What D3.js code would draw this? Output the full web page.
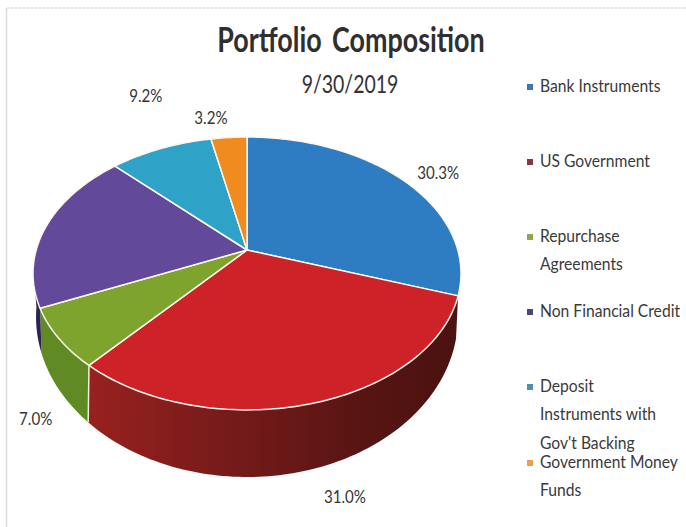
<!DOCTYPE html>
<html>
<head>
<meta charset="utf-8">
<script src="https://cdn.jsdelivr.net/npm/d3@7/dist/d3.min.js"></script>
<style>html,body{margin:0;padding:0;background:#fff}svg{display:block}</style>
</head>
<body>
<svg id="chart" width="686" height="527"></svg>
<script>
const categories = ["Bank Instruments","US Government","Repurchase Agreements","Non Financial Credit","Deposit Instruments with Gov't Backing","Government Money Funds"];
const shares = [30.3,31.0,7.0,19.3,9.2,3.2];
const shownLabels = ["30.3%","31.0%","7.0%","","9.2%","3.2%"];
const legendLines = [["Bank Instruments"],["US Government"],["Repurchase","Agreements"],["Non Financial Credit"],["Deposit","Instruments with","Gov't Backing"],["Government Money","Funds"]];
const titleText = "Portfolio Composition";
const subtitleText = "9/30/2019";

const topColors = ["#2e7cc2","#cc2228","#7ea42e","#63499a","#2fa2c8","#f08c1f"];
const wallColors = [null,"url(#redWall)","#5f8a24","#2a2452",null,null];
const keyColors = ["#3f75a8","#8c3540","#8fa552","#4b4778","#4a94b0","#e5a050"];
const font = "Lato, 'Open Sans', sans-serif";
const ink = "#333";

const svg = d3.select("#chart");
const defs = svg.append("defs");
const grad = defs.append("linearGradient").attr("id","redWall").attr("gradientUnits","userSpaceOnUse")
  .attr("x1",90).attr("x2",460).attr("y1",0).attr("y2",0);
[[0,"#97211f"],[0.4,"#741a1a"],[0.75,"#561512"],[1,"#4a1210"]].forEach(([o,c])=>grad.append("stop").attr("offset",o).attr("stop-color",c));

// text drawn in a horizontally squeezed frame, to mimic the narrow face of the original
const squeezedText = (x,y,f,str)=>svg.append("text")
  .attr("transform",`translate(${x},${y}) scale(${f},1)`)
  .attr("font-family",font).text(str);

// frame
svg.append("line").attr("x1",7).attr("x2",686).attr("y1",8).attr("y2",8).attr("stroke","#cfcfcf").attr("stroke-dasharray","3 1");
svg.append("line").attr("x1",6.5).attr("x2",6.5).attr("y1",8).attr("y2",527).attr("stroke","#dcdcdc").attr("stroke-width",1.5);

// perspective projection of the disc
const cx = 247;
const makeProjection = (y0,R,S,k)=>t=>{
  const w = 1 + k*Math.cos(t);
  return [cx + R*Math.sin(t)/w, y0 - S*Math.cos(t)/w];
};
const topRim = makeProjection(250,210.8,132.4,0.172);
const baseRim = makeProjection(285,206.7,153.6,0.2);

const pie = d3.pie().sort(null).value(d=>d);
const arcs = pie(shares);
const line = d3.line();
const sweep = (a,b)=>{const n=Math.max(2,Math.ceil((b-a)/0.02));return d3.range(n+1).map(i=>a+(b-a)*i/n);};

// side walls
const wallMin = 100*Math.PI/180, wallMax = 262*Math.PI/180;
arcs.forEach((d,i)=>{
  if(!wallColors[i]) return;
  const a=Math.max(d.startAngle,wallMin), b=Math.min(d.endAngle,wallMax);
  const ts=sweep(a,b);
  const pts=ts.map(topRim).concat(ts.slice().reverse().map(baseRim));
  svg.append("path").attr("d",line(pts)+"Z").attr("fill",wallColors[i]);
});
// vertical seam between red and green walls
const seam=arcs[1].endAngle;
svg.append("line").attr("x1",topRim(seam)[0]).attr("y1",topRim(seam)[1]).attr("x2",baseRim(seam)[0]).attr("y2",baseRim(seam)[1])
  .attr("stroke","#f4efd8").attr("stroke-width",1.5);

// top face
arcs.forEach((d,i)=>{
  const pts=[[cx,250]].concat(sweep(d.startAngle,d.endAngle).map(topRim));
  svg.append("path").attr("d",line(pts)+"Z").attr("fill",topColors[i])
    .attr("stroke","#fbf8f0").attr("stroke-width",1.5).attr("stroke-linejoin","round");
});

// value labels, nudged off the rim
const labelNudge = [[35,-6],[32,95],[-23,82],[0,0],[-15,-51],[-18,-18]];
arcs.forEach((d,i)=>{
  if(!shownLabels[i]) return;
  const p=topRim((d.startAngle+d.endAngle)/2);
  const off=labelNudge[i];
  squeezedText(p[0]+off[0],p[1]+off[1],0.84,shownLabels[i])
    .attr("text-anchor","middle").attr("dominant-baseline","middle")
    .attr("font-size",18).attr("fill",ink);
});

// titles
squeezedText(351,52,0.79,titleText).attr("text-anchor","middle").attr("font-weight",700)
  .attr("font-size",34).attr("word-spacing",5).attr("fill","#2f2f2f");
squeezedText(350,93,0.78,subtitleText).attr("text-anchor","middle")
  .attr("font-size",25).attr("fill",ink);

// legend
const keyRows = [87,162,237,312,387,463];
const rowGap = 28.5;
categories.forEach((c,i)=>{
  svg.append("rect").attr("x",527).attr("y",keyRows[i]-3).attr("width",6).attr("height",6).attr("fill",keyColors[i]);
  legendLines[i].forEach((t,j)=>{
    squeezedText(540,keyRows[i]+j*rowGap,0.87,t).attr("dominant-baseline","middle")
      .attr("font-size",18).attr("fill","#3a3a3a");
  });
});
</script>
</body>
</html>
